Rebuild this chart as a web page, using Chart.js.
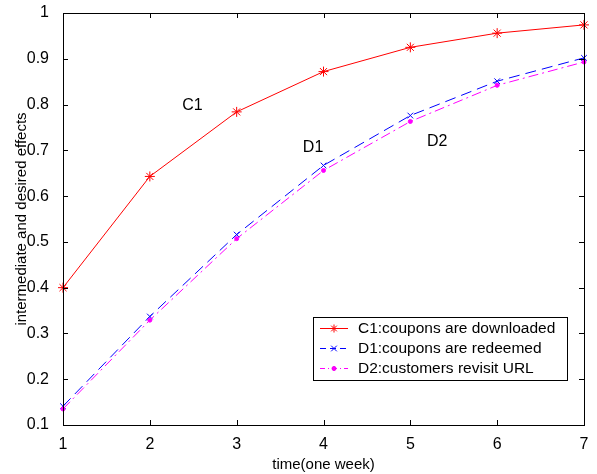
<!DOCTYPE html>
<html>
<head>
<meta charset="utf-8">
<script src="https://cdn.jsdelivr.net/npm/chart.js@4/dist/chart.umd.min.js"></script>
<style>
  html, body { margin: 0; padding: 0; background: #fff; }
  #wrap { width: 597px; height: 474px; }
</style>
</head>
<body>
<div id="wrap"><canvas id="effectsChart" width="597" height="474"></canvas></div>
<script>
// weeks and measured effects
var weeks = [1, 2, 3, 4, 5, 6, 7];
var c1Values = [0.400, 0.643, 0.784, 0.872, 0.925, 0.956, 0.974];
var d1Values = [0.141, 0.337, 0.516, 0.667, 0.776, 0.851, 0.902];
var d2Values = [0.135, 0.329, 0.507, 0.656, 0.763, 0.842, 0.893];
var yTicks = [0.1, 0.2, 0.3, 0.4, 0.5, 0.6, 0.7, 0.8, 0.9, 1];

// curve names placed in data space
var curveNotes = [
    {text: 'C1', x: 2.49, y: 0.798},
    {text: 'D1', x: 3.88, y: 0.705},
    {text: 'D2', x: 5.31, y: 0.718}
];
var legendItems = [
    {text: 'C1:coupons are downloaded', color: '#ff0000', style: 'star', dash: []},
    {text: 'D1:coupons are redeemed', color: '#0000ff', style: 'crossRot', dash: [6, 4]},
    {text: 'D2:customers revisit URL', color: '#ff00ff', style: 'circle', dash: [5, 3, 1, 3]}
];

function toPoints(vals)
{
    var pts = [];
    for (var i = 0; i < weeks.length; i++) {
        pts.push({x: weeks[i], y: vals[i]});
    }
    return pts;
}

var FONT = '"Liberation Sans", Arial, sans-serif';

// box, inward ticks, curve notes and legend like a matlab figure
var matlabFrame = {
    id: 'matlabFrame',
    afterDraw: function(chart) {
        var ctx = chart.ctx;
        var a = chart.chartArea;
        var xs = chart.scales.x, ys = chart.scales.y;
        ctx.save();
        ctx.strokeStyle = '#000';
        ctx.lineWidth = 1;
        ctx.setLineDash([]);
        ctx.strokeRect(Math.round(a.left) + 0.5, Math.round(a.top) + 0.5,
            Math.round(a.right - a.left), Math.round(a.bottom - a.top));
        ctx.beginPath();
        weeks.forEach(function(w) {
            var px = Math.round(xs.getPixelForValue(w)) + 0.5;
            ctx.moveTo(px, a.bottom); ctx.lineTo(px, a.bottom - 5);
            ctx.moveTo(px, a.top); ctx.lineTo(px, a.top + 5);
        });
        yTicks.forEach(function(t) {
            var py = Math.round(ys.getPixelForValue(t)) + 0.5;
            ctx.moveTo(a.left, py); ctx.lineTo(a.left + 5, py);
            ctx.moveTo(a.right, py); ctx.lineTo(a.right - 5, py);
        });
        ctx.stroke();

        ctx.fillStyle = '#000';
        ctx.font = '16px ' + FONT;
        ctx.textAlign = 'center';
        ctx.textBaseline = 'middle';
        curveNotes.forEach(function(n) {
            ctx.fillText(n.text, xs.getPixelForValue(n.x), ys.getPixelForValue(n.y));
        });

        // legend box
        var lx = 313, ly = 317, lw = 254, lh = 63;
        ctx.fillStyle = '#fff';
        ctx.fillRect(lx, ly, lw, lh);
        ctx.strokeRect(lx + 0.5, ly + 0.5, lw, lh);
        ctx.textAlign = 'left';
        ctx.font = '15.5px ' + FONT;
        legendItems.forEach(function(item, i) {
            var cy = ly + 11 + i * 20;
            ctx.strokeStyle = item.color;
            ctx.setLineDash(item.dash);
            ctx.beginPath();
            ctx.moveTo(lx + 7, cy + 0.5);
            ctx.lineTo(lx + 35, cy + 0.5);
            ctx.stroke();
            ctx.setLineDash([]);
            Chart.helpers.drawPoint(ctx, {
                pointStyle: item.style,
                radius: item.style === 'circle' ? 2 : 4,
                borderWidth: 1
            }, lx + 21, cy + 0.5);
            ctx.fillStyle = item.color;
            if (item.style === 'circle') {
                ctx.beginPath();
                ctx.arc(lx + 21, cy + 0.5, 2, 0, Math.PI * 2);
                ctx.fill();
            }
            ctx.fillStyle = '#000';
            ctx.fillText(item.text, lx + 45, cy + 1);
        });
        ctx.restore();
    }
};

function makeSet(label, vals, color, style, dash, radius)
{
    return {
        label: label,
        data: toPoints(vals),
        borderColor: color,
        backgroundColor: color,
        borderWidth: 1,
        borderDash: dash,
        pointStyle: style,
        pointRadius: radius,
        pointBorderWidth: 1,
        pointBorderColor: color,
        pointBackgroundColor: color,
        tension: 0,
        fill: false,
        clip: false
    };
}

var ctx = document.getElementById('effectsChart');
var chart = new Chart(ctx, {
    type: 'line',
    data: {
        datasets: [
            makeSet('D2', d2Values, '#ff00ff', 'circle', [10, 4, 2, 4], 2),
            makeSet('D1', d1Values, '#0000ff', 'crossRot', [11, 6], 4),
            makeSet('C1', c1Values, '#ff0000', 'star', [], 5)
        ]
    },
    options: {
        responsive: false,
        animation: false,
        events: [],
        layout: {padding: {top: 13, right: 13, left: 0, bottom: 0}},
        plugins: {legend: {display: false}, tooltip: {enabled: false}},
        scales: {
            x: {
                type: 'linear',
                min: 1, max: 7,
                afterBuildTicks: function(s) { s.ticks = weeks.map(function(v) { return {value: v}; }); },
                afterFit: function(s) { s.height = 49; s.paddingTop = 0; s.paddingBottom = 0; },
                grid: {display: false},
                border: {display: false},
                ticks: {color: '#000', font: {family: FONT, size: 16}, padding: 2, maxRotation: 0},
                title: {display: true, text: 'time(one week)', color: '#000',
                    font: {family: FONT, size: 15}, padding: {top: 3, bottom: 0}}
            },
            y: {
                type: 'linear',
                min: 0.1, max: 1,
                afterBuildTicks: function(s) { s.ticks = yTicks.map(function(v) { return {value: v}; }); },
                afterFit: function(s) { s.width = 63; s.paddingTop = 0; s.paddingBottom = 0; },
                grid: {display: false},
                border: {display: false},
                ticks: {color: '#000', font: {family: FONT, size: 16}, padding: 6,
                    callback: function(v) { return String(Math.round(v * 10) / 10); }},
                title: {display: true, text: 'intermediate and desired effects', color: '#000',
                    font: {family: FONT, size: 15}, padding: {top: 13, bottom: 0}}
            }
        }
    },
    plugins: [matlabFrame]
});
</script>
</body>
</html>
